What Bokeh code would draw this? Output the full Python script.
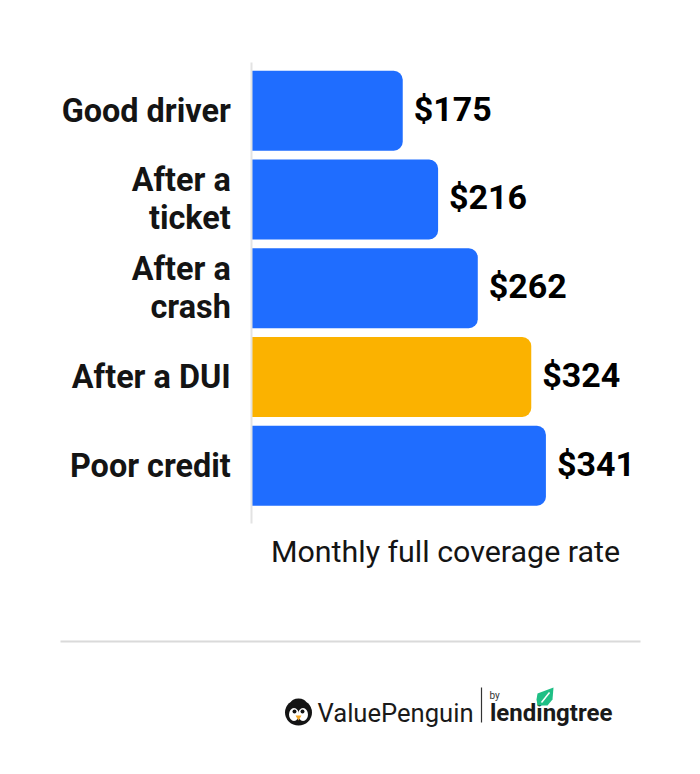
from bokeh.plotting import figure
from bokeh.models import Range1d, FixedTicker, ColumnDataSource
from bokeh.core.properties import value
from bokeh.embed import file_html
from bokeh.resources import INLINE

categories = ["Good driver", "After a\nticket", "After a\ncrash", "After a DUI", "Poor credit"]
rates = [175, 216, 262, 324, 341]
rate_labels = ["$175", "$216", "$262", "$324", "$341"]
bar_colors = ["#1F6DFF", "#1F6DFF", "#1F6DFF", "#FBB200", "#1F6DFF"]
axis_title = "Monthly full coverage rate"
positions = list(range(len(categories)))

ROBOTO = value("Roboto")
src = ColumnDataSource(dict(y=positions, v=rates, lab=rate_labels, c=bar_colors))

W, H = 684, 758
PX_X0 = 251.3  # page x of zero
PX_UNIT = 0.8625
PY0 = 110.2  # page y of first bar
PY_STEP = 88.75

p = figure(width=W, height=H, output_backend="svg", toolbar_location=None,
           x_range=Range1d(-PX_X0 / PX_UNIT, (W - PX_X0) / PX_UNIT),
           y_range=Range1d((H - PY0) / PY_STEP, -PY0 / PY_STEP),
           min_border=0, outline_line_color=None)
p.extra_x_ranges["px"] = Range1d(0, W)
p.extra_y_ranges["px"] = Range1d(H, 0)
p.xgrid.visible = False
p.ygrid.visible = False
p.xaxis.visible = False

p.hbar(y="y", left=0, right="v", height=0.9, fill_color="c", line_color=None,
       border_radius=(0, 9, 9, 0), source=src)
p.text(x="v", y="y", text="lab", source=src, x_offset=11, y_offset=-2, text_align="left",
       text_baseline="middle", text_font=ROBOTO, text_font_style="bold",
       text_font_size="34px", text_color="#000000")

ya = p.yaxis[0]
ya.fixed_location = 0
ya.bounds = (-0.546, 4.648)
ya.ticker = FixedTicker(ticks=positions)
ya.major_label_overrides = {i: c for i, c in zip(positions, categories)}
ya.major_label_text_font = "Roboto"
ya.major_label_text_font_style = "bold"
ya.major_label_text_font_size = "32.4px"
ya.major_label_text_color = "#141414"
ya.major_label_text_line_height = 1.0
ya.major_label_standoff = 15
ya.major_tick_line_color = None
ya.minor_tick_line_color = None
ya.axis_line_color = "#E3E3E3"
ya.axis_line_width = 2

px = dict(x_range_name="px", y_range_name="px")
p.text(x=[445], y=[551], text=[axis_title], text_align="center", text_baseline="middle",
       text_font=ROBOTO, text_font_size="30.4px", text_color="#141414", **px)

# footer: divider and logo, in page pixels
p.segment(x0=[60], y0=[641], x1=[640], y1=[641], line_color="#DADADA", line_width=2, **px)
p.segment(x0=[481], y0=[687], x1=[481], y1=[722], line_color="#333333", line_width=1.2, **px)
# penguin
p.ellipse(x=[298], y=[712], width=27, height=26, fill_color="#141414", line_color=None, **px)
p.ellipse(x=[298], y=[702], width=15, height=8, fill_color="#141414", line_color=None, **px)
p.ellipse(x=[293.5], y=[714], width=10, height=13, fill_color="#FFFFFF", line_color=None, **px)
p.ellipse(x=[302.5], y=[714], width=10, height=13, fill_color="#FFFFFF", line_color=None, **px)
p.scatter(x=[294, 302], y=[711, 711], size=4, fill_color="#141414", line_color=None, **px)
p.patch(x=[295, 301, 298], y=[715, 715, 720], fill_color="#F5A623", line_color=None, **px)
p.text(x=[317], y=[712.5], text=["ValuePenguin"], text_font=ROBOTO, text_font_size="25.6px",
       text_color="#1A1A1A", text_baseline="middle", **px)
p.text(x=[489], y=[695], text=["by"], text_font=ROBOTO, text_font_size="10px",
       text_color="#333333", text_baseline="middle", **px)
p.text(x=[489.5], y=[712], text=["lendingtree"], text_font=ROBOTO, text_font_style="bold",
       text_font_size="24px", text_color="#1A1A1A", text_baseline="middle", **px)
# leaf
p.patch(x=[537, 553, 552, 547, 537, 536], y=[693, 687, 699, 705, 705, 699],
        fill_color="#1FBF85", line_color=None, **px)
p.segment(x0=[541], y0=[702], x1=[549], y1=[692], line_color="#FFFFFF", line_width=1.5, **px)

open("out.html", "w").write(file_html(p, INLINE))
